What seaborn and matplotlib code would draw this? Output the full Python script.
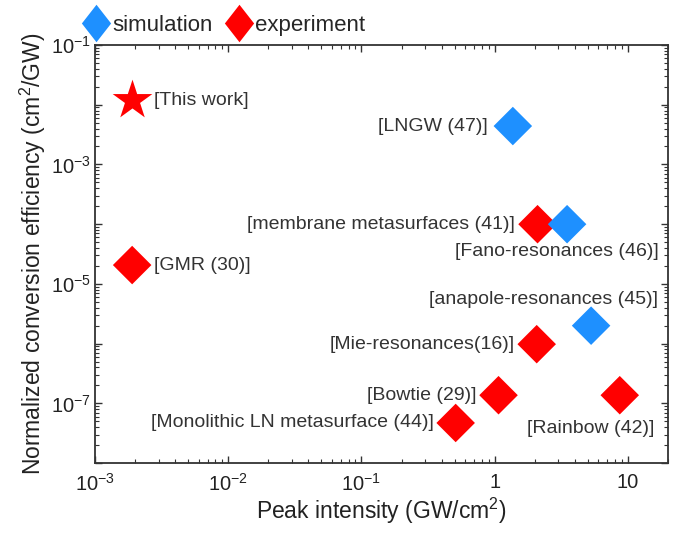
import numpy as np
import matplotlib
matplotlib.use("Agg")
import matplotlib.pyplot as plt
from matplotlib.lines import Line2D
from matplotlib.ticker import LogLocator, FixedLocator, NullFormatter
import pandas as pd
import seaborn as sns

# data
names = ["[LNGW (47)]", "[membrane metasurfaces (41)]", "[Fano-resonances (46)]",
         "[anapole-resonances (45)]", "[Mie-resonances(16)]", "[Bowtie (29)]",
         "[Rainbow (42)]", "[Monolithic LN metasurface (44)]", "[GMR (30)]"]
intensity = [1.37, 2.1, 3.5, 5.3, 2.07, 1.07, 8.7, 0.51, 1.9e-3]
efficiency = [4.4e-3, 1.0e-4, 1.0e-4, 2.0e-6, 9.8e-7, 1.37e-7, 1.37e-7, 4.7e-8, 2.07e-5]
kind = ["simulation", "experiment", "simulation", "simulation", "experiment",
        "experiment", "experiment", "experiment", "experiment"]

this_work_x = [1.9e-3]
this_work_y = [1.2e-2]

# label offsets in points (dx, dy, ha)
label_offsets = [(-18, 0, "right"), (-16, 0, "right"), (66, -20, "right"),
                 (48, 19, "right"), (-16, 0, "right"), (-16, 0, "right"),
                 (25, -24, "right"), (-16, 0, "right"), (16, 0, "left")]

colors = {"simulation": "#1E90FF", "experiment": "#FF0000"}

sns.set_theme(style="ticks")
plt.rcParams["font.family"] = ["Liberation Sans", "DejaVu Sans"]
plt.rcParams["mathtext.default"] = "regular"

df = pd.DataFrame({"name": names, "x": intensity, "y": efficiency, "kind": kind})

fig = plt.figure(figsize=(6.9, 5.36), dpi=100)
ax = fig.add_axes([0.1377, 0.136, 0.8303, 0.78])

sns.scatterplot(data=df, x="x", y="y", hue="kind", palette=colors, marker="D",
                s=385, linewidth=0, legend=False, ax=ax, zorder=3)
sns.scatterplot(x=this_work_x, y=this_work_y, color="#FF0000", marker="*",
                s=900, linewidth=0, ax=ax, zorder=3)

ax.set_xscale("log")
ax.set_yscale("log")
ax.set_xlim(1e-3, 20)
ax.set_ylim(1e-8, 1e-1)

for i, row in df.iterrows():
    dx, dy, ha = label_offsets[i]
    ax.annotate(row["name"], (row["x"], row["y"]), xytext=(dx, dy),
                textcoords="offset points", ha=ha, va="center",
                fontsize=14, color="#333333")
ax.annotate("[This work]", (this_work_x[0], this_work_y[0]), xytext=(16, 0),
            textcoords="offset points", ha="left", va="center",
            fontsize=14, color="#333333")

# ticks
ax.xaxis.set_major_locator(FixedLocator([1e-3, 1e-2, 1e-1, 1, 10]))
ax.set_xticklabels(["$10^{-3}$", "$10^{-2}$", "$10^{-1}$", "1", "10"])
ax.xaxis.set_minor_locator(LogLocator(base=10, subs=np.arange(2, 10), numticks=20))
ax.xaxis.set_minor_formatter(NullFormatter())

ydec = [1e-8, 1e-7, 1e-6, 1e-5, 1e-4, 1e-3, 1e-2, 1e-1]
ax.yaxis.set_major_locator(FixedLocator(ydec))
ax.set_yticklabels(["", "$10^{-7}$", "", "$10^{-5}$", "", "$10^{-3}$", "", "$10^{-1}$"])
ax.yaxis.set_minor_locator(LogLocator(base=10, subs=np.arange(2, 10), numticks=20))
ax.yaxis.set_minor_formatter(NullFormatter())

ax.tick_params(which="both", direction="in", top=True, right=True,
               colors="#333333", labelcolor="#222222", labelsize=14.5)
ax.tick_params(which="major", length=5, width=1)
ax.tick_params(which="minor", length=3, width=0.8)
ax.tick_params(axis="x", which="major", pad=7)
ax.tick_params(axis="y", which="major", pad=3)
for sp in ax.spines.values():
    sp.set_color("#333333")
    sp.set_linewidth(1.3)

ax.set_xlabel("Peak intensity (GW/cm$^2$)", fontsize=16.5, color="#222222", labelpad=1)
ax.set_ylabel("Normalized conversion efficiency (cm$^2$/GW)", fontsize=16.5,
              color="#222222", labelpad=2)

# slightly tall diamond for the legend keys
tall_diamond = [(0, 1), (0.78, 0), (0, -1), (-0.78, 0), (0, 1)]
handles = [Line2D([], [], marker=tall_diamond, linestyle="", color=colors["simulation"],
                  markersize=27, markeredgewidth=0, label="simulation"),
           Line2D([], [], marker=tall_diamond, linestyle="", color=colors["experiment"],
                  markersize=27, markeredgewidth=0, label="experiment")]
fig.legend(handles=handles, loc="center left", bbox_to_anchor=(0.085, 0.953),
           ncol=2, frameon=False, fontsize=16, handletextpad=-0.1,
           columnspacing=0.4, handlelength=1.6)

fig.savefig("out.png", dpi=100)
